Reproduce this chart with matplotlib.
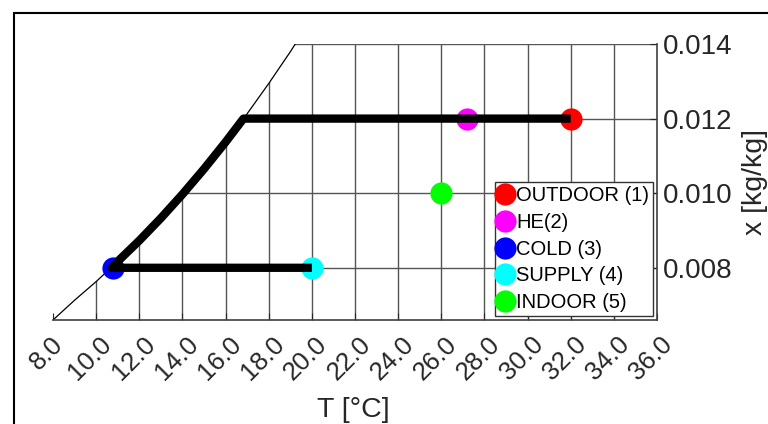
import matplotlib
matplotlib.use("Agg")
import matplotlib.pyplot as plt
import matplotlib.transforms as mtransforms
from matplotlib.patches import Polygon, Rectangle
import numpy as np

plt.rcParams["font.family"] = ["Liberation Sans", "DejaVu Sans"]

# saturation line: dry-bulb temperature [°C] vs humidity ratio [kg/kg]
sat_T = [8, 9, 10, 11, 12, 13, 14, 15, 16, 17, 18, 19, 20]
sat_x = [0.00660, 0.00713, 0.00763, 0.00817, 0.00873, 0.00933, 0.00997,
         0.01065, 0.01137, 0.01213, 0.01294, 0.01379, 0.01470]

# air-handling path: outdoor -> heat exchanger -> cooling coil -> reheat to supply
path_T = [32.0, 16.83, 16, 15, 14, 13, 12, 11, 10.72, 20.0]
path_x = [0.012, 0.012, 0.01137, 0.01065, 0.00997, 0.00933, 0.00873, 0.00817,
          0.008, 0.008]

state_names = ["OUTDOOR (1)", "HE(2)", "COLD (3)", "SUPPLY (4)", "INDOOR (5)"]
state_T = [32.0, 27.2, 10.8, 20.0, 26.0]
state_x = [0.012, 0.012, 0.008, 0.008, 0.010]
state_colors = ["#ff0000", "#ff00ff", "#0000ff", "#00ffff", "#00ff00"]

T_ticks = np.arange(8, 37, 2)
x_ticks = [0.008, 0.010, 0.012, 0.014]

GRID = "#555555"
AXIS = "#262626"

W, H = 768, 424
fig = plt.figure(figsize=(W / 100, H / 100), dpi=100)
ax = fig.add_axes([53 / W, 1 - 320 / H, 604 / W, 276 / H])
ax.set_xlim(8, 36)
ax.set_ylim(0.0066, 0.014)

# region right of the saturation line, used to trim the grid
region = Polygon(list(zip(sat_T, sat_x)) + [(36, sat_x[-1]), (36, sat_x[0])],
                 closed=True, facecolor="none", edgecolor="none")
ax.add_patch(region)

vg = ax.vlines(T_ticks[1:-1], 0.0066, 0.014, colors=GRID, lw=1, zorder=1)
hg = ax.hlines(x_ticks, 8, 36, colors=GRID, lw=1, zorder=1)
vg.set_clip_path(region)
hg.set_clip_path(region)
hg.set_clip_box(None)

ax.plot(sat_T, sat_x, color="k", lw=0.9, zorder=2)

for name, t, x, c in zip(state_names, state_T, state_x, state_colors):
    ax.plot(t, x, "o", ms=16, color=c, mec=c, mew=0, label=name, zorder=3)

ax.plot(path_T, path_x, color="k", lw=6, solid_capstyle="butt",
        solid_joinstyle="round", zorder=4)

for s in ("left", "top"):
    ax.spines[s].set_visible(False)
for s in ("bottom", "right"):
    ax.spines[s].set_color("#404040")
    ax.spines[s].set_linewidth(1.2)

ax.yaxis.tick_right()
ax.set_xticks(T_ticks)
ax.set_xticklabels([f"{t:.1f}" for t in T_ticks], rotation=45, ha="center")
ax.set_yticks(x_ticks)
ax.set_yticklabels([f"{x:.3f}" for x in x_ticks])
ax.tick_params(axis="x", direction="in", length=5, pad=9, labelsize=18.5,
               colors=AXIS)
ax.tick_params(axis="y", direction="in", length=5, pad=4, labelsize=20,
               colors=AXIS)

# nudge the slanted temperature labels a little to the left
shift = mtransforms.ScaledTranslation(-0.06, 0, fig.dpi_scale_trans)
for lbl in ax.get_xticklabels():
    lbl.set_transform(lbl.get_transform() + shift)

leg = ax.legend(loc="lower right", bbox_to_anchor=(0.9934, 0.0145),
                fontsize=14.5, fancybox=False, framealpha=1, edgecolor="#333333",
                borderpad=0.2, handlelength=0.6, handletextpad=0.25,
                labelspacing=0.38, borderaxespad=0)
leg.get_frame().set_linewidth(1.0)

fig.text(353 / W, 1 / H, "T [°C]", ha="center", va="bottom", fontsize=20.5,
         color=AXIS)
fig.text(742 / W, 1 - 182 / H, "x [kg/kg]", rotation=90, ha="left",
         va="center", fontsize=20.5, color=AXIS)

# outer figure frame
fig.patches.append(Rectangle((14 / W, -0.1), 2, 1 - 13 / H + 0.1,
                             transform=fig.transFigure, fill=False,
                             lw=1.5, ec="k"))

fig.savefig("out.png", dpi=100)
